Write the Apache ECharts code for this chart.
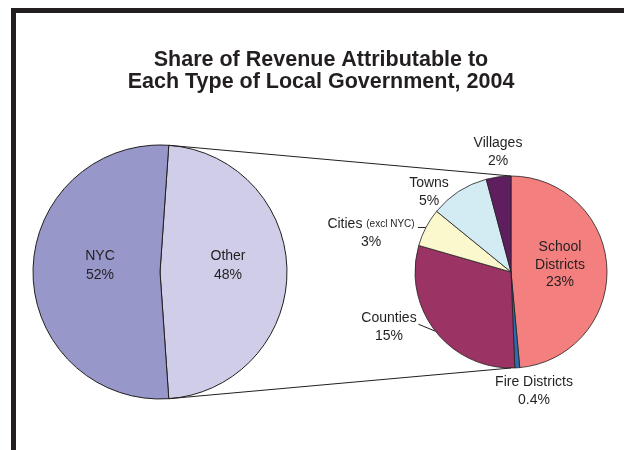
<!DOCTYPE html>
<html>
<head>
<meta charset="utf-8">
<script src="https://cdn.jsdelivr.net/npm/echarts@6/dist/echarts.min.js"></script>
<style>
html, body { margin: 0; padding: 0; background: #fff; }
#main { width: 624px; height: 450px; }
</style>
</head>
<body>
<div id="main"></div>
<script>
// first pie: NYC vs everything else
var mainNames = ['Other', 'NYC'];
var mainValues = [47.8, 52.2];
var mainColors = ['#cfcde8', '#9797c9'];

// second pie: breakdown of "Other", clockwise from the top
var otherNames = ['School Districts', 'Fire Districts', 'Counties', 'Cities', 'Towns', 'Villages'];
var otherLabels = ['School\nDistricts', 'Fire Districts', 'Counties', 'Cities {s|(excl NYC)}', 'Towns', 'Villages'];
var otherValues = [23.4, 0.4, 14.5, 3.1, 4.8, 2.0];
var otherColors = ['#f47f7f', '#2b6cb3', '#9b3465', '#fcf8cd', '#d3ebf2', '#5f1f5f'];

var ink = '#231f20';
var font = '"Liberation Sans", Arial, Helvetica, sans-serif';

var bigPie = { cx: 160, cy: 272, r: 127 };
var smallPie = { cx: 511, cy: 272, r: 96 };

// where the label text sits (centre of the text block)
var labelSpots = {
	'NYC': [100, 266],
	'Other': [228, 266],
	'School Districts': [560, 265],
	'Fire Districts': [534, 391],
	'Counties': [389, 327],
	'Cities': [371, 233],
	'Towns': [429, 192],
	'Villages': [498, 152]
};
// short leader lines, offset of the tail from the slice edge
var leadTails = {
	'Cities': [-8, 0],
	'Counties': [-17, -7]
};

function pctText(v) {
	return (v < 1 ? v.toFixed(1) : Math.round(v)) + '%';
}

function sliceAngles(values, start) {
	var total = 0;
	for (var i = 0; i < values.length; i++) total += values[i];
	var acc = start, out = [];
	for (var j = 0; j < values.length; j++) {
		var sweep = values[j] / total * 360;
		out.push({ from: acc, to: acc + sweep, mid: acc + sweep / 2 });
		acc += sweep;
	}
	return out;
}

function edgePoint(pie, deg) {
	var a = deg * Math.PI / 180;
	return [pie.cx + pie.r * Math.sin(a), pie.cy - pie.r * Math.cos(a)];
}

// "Other" slice is centred on the right side of the big pie
var otherSweep = mainValues[0] / (mainValues[0] + mainValues[1]) * 360;
var bigStart = 90 - otherSweep / 2;
var smallAngles = sliceAngles(otherValues, 0);

var topA = edgePoint(bigPie, bigStart);
var botA = edgePoint(bigPie, bigStart + otherSweep);
var topB = edgePoint(smallPie, 0);
var botB = edgePoint(smallPie, 180);

var labelBase = {
	show: true,
	fontFamily: font,
	fontSize: 14,
	color: ink
};

var mainData = [];
for (var i = 0; i < mainNames.length; i++) {
	mainData.push({ name: mainNames[i], value: mainValues[i], itemStyle: { color: mainColors[i] } });
}

var otherData = [];
for (var k = 0; k < otherNames.length; k++) {
	otherData.push({
		name: otherNames[k],
		value: otherValues[k],
		itemStyle: { color: otherColors[k] },
		label: { position: k == 0 ? 'inside' : 'outside' },
		labelLine: { show: !!leadTails[otherNames[k]] }
	});
}

var chart = echarts.init(document.getElementById('main'));
var option = {
	animation: false,
	backgroundColor: '#fff',
	title: {
		text: 'Share of Revenue Attributable to\nEach Type of Local Government, 2004',
		left: 321,
		top: 49,
		padding: 0,
		textAlign: 'center',
		textStyle: {
			fontFamily: font,
			fontSize: 21.5,
			fontWeight: 'bold',
			lineHeight: 22,
			color: ink
		}
	},
	graphic: [
		{ type: 'rect', shape: { x: 11, y: 8, width: 613, height: 5 }, style: { fill: ink } },
		{ type: 'rect', shape: { x: 11, y: 8, width: 5, height: 442 }, style: { fill: ink } },
		{ type: 'line', shape: { x1: topA[0], y1: topA[1], x2: topB[0], y2: topB[1] }, style: { stroke: ink, lineWidth: 1 }, z: 10 },
		{ type: 'line', shape: { x1: botA[0], y1: botA[1], x2: botB[0], y2: botB[1] }, style: { stroke: ink, lineWidth: 1 }, z: 10 }
	],
	series: [
		{
			type: 'pie',
			silent: true,
			center: [bigPie.cx, bigPie.cy],
			radius: bigPie.r,
			startAngle: 90 - bigStart,
			clockwise: true,
			avoidLabelOverlap: false,
			itemStyle: { borderColor: ink, borderWidth: 1 },
			label: Object.assign({}, labelBase, {
				position: 'inside',
				lineHeight: 19,
				formatter: function (p) { return p.name + '\n' + pctText(p.value); }
			}),
			labelLine: { show: false },
			labelLayout: function (p) {
				var s = labelSpots[mainNames[p.dataIndex]];
				return { x: s[0], y: s[1], align: 'center', verticalAlign: 'middle' };
			},
			data: mainData
		},
		{
			type: 'pie',
			silent: true,
			center: [smallPie.cx, smallPie.cy],
			radius: smallPie.r,
			startAngle: 90,
			clockwise: true,
			avoidLabelOverlap: false,
			itemStyle: { borderColor: ink, borderWidth: 0.8 },
			label: Object.assign({}, labelBase, {
				lineHeight: 17.5,
				formatter: function (p) { return otherLabels[p.dataIndex] + '\n' + pctText(p.value); },
				rich: { s: { fontFamily: font, fontSize: 10, color: ink, lineHeight: 17.5 } }
			}),
			labelLine: { show: false, lineStyle: { color: ink, width: 1 } },
			labelLayout: function (p) {
				var name = otherNames[p.dataIndex];
				var s = labelSpots[name];
				var out = { x: s[0], y: s[1], align: 'center', verticalAlign: 'middle' };
				var tail = leadTails[name];
				if (tail) {
					var e = edgePoint(smallPie, smallAngles[p.dataIndex].mid);
					out.labelLinePoints = [[e[0] + tail[0], e[1] + tail[1]], e];
				}
				return out;
			},
			data: otherData
		}
	]
};
chart.setOption(option);
window.onresize = chart.resize;
</script>
</body>
</html>
